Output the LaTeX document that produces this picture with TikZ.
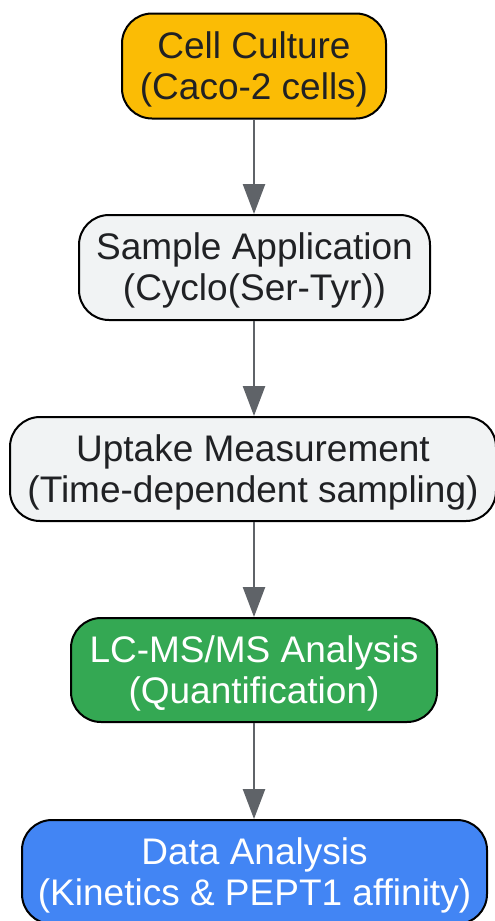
\documentclass[tikz,border=0pt]{standalone}
\usepackage{fontspec}
\setmainfont{Liberation Sans}
\usetikzlibrary{arrows.meta}
\definecolor{ctext}{HTML}{202124}
\definecolor{corange}{HTML}{FBBC05}
\definecolor{cgray}{HTML}{F1F3F4}
\definecolor{cgreen}{HTML}{34A853}
\definecolor{cblue}{HTML}{4285F4}
\definecolor{carrow}{HTML}{5F6368}
\begin{document}
\begin{tikzpicture}[x=1pt,y=-1pt,
  box/.style={draw=black, line width=2pt, rounded corners=30pt, inner sep=0pt},
  lbl/.style={inner sep=0pt, align=center, font=\fontsize{37}{41}\selectfont, text=ctext},
  flow/.style={draw=carrow, line width=2.5pt, -{Triangle[length=30pt,width=22pt]}}]
\useasboundingbox (0,0) rectangle (495,921);
\node[box, fill=corange, minimum width=264pt, minimum height=105pt] (n1) at (254,66) {};
\node[box, fill=cgray, minimum width=351pt, minimum height=105pt] (n2) at (254.5,267.5) {};
\node[box, fill=cgray, minimum width=486pt, minimum height=104pt] (n3) at (253,469) {};
\node[box, fill=cgreen, minimum width=366pt, minimum height=104pt] (n4) at (254,670) {};
\node[box, fill=cblue, minimum width=465pt, minimum height=104pt] (n5) at (254.5,872) {};
\node[lbl] (t1) at ([yshift=-3pt]n1.center) {Cell Culture\\(Caco-2 cells)};
\node[lbl] (t2) at ([yshift=-3pt]n2.center) {Sample Application\\(Cyclo(Ser-Tyr))};
\node[lbl] (t3) at ([yshift=-3pt]n3.center) {Uptake Measurement\\(Time-dependent sampling)};
\node[lbl, text=white] (t4) at ([yshift=-3pt]n4.center) {LC-MS/MS Analysis\\(Quantification)};
\node[lbl, text=white] (t5) at ([yshift=-3pt]n5.center) {Data Analysis\\(Kinetics \& PEPT1 affinity)};
\draw[flow] (n1.south) -- (n1.south |- n2.north);
\draw[flow] (n1.south |- n2.south) -- (n1.south |- n3.north);
\draw[flow] (n1.south |- n3.south) -- (n1.south |- n4.north);
\draw[flow] (n1.south |- n4.south) -- (n1.south |- n5.north);
\end{tikzpicture}
\end{document}
